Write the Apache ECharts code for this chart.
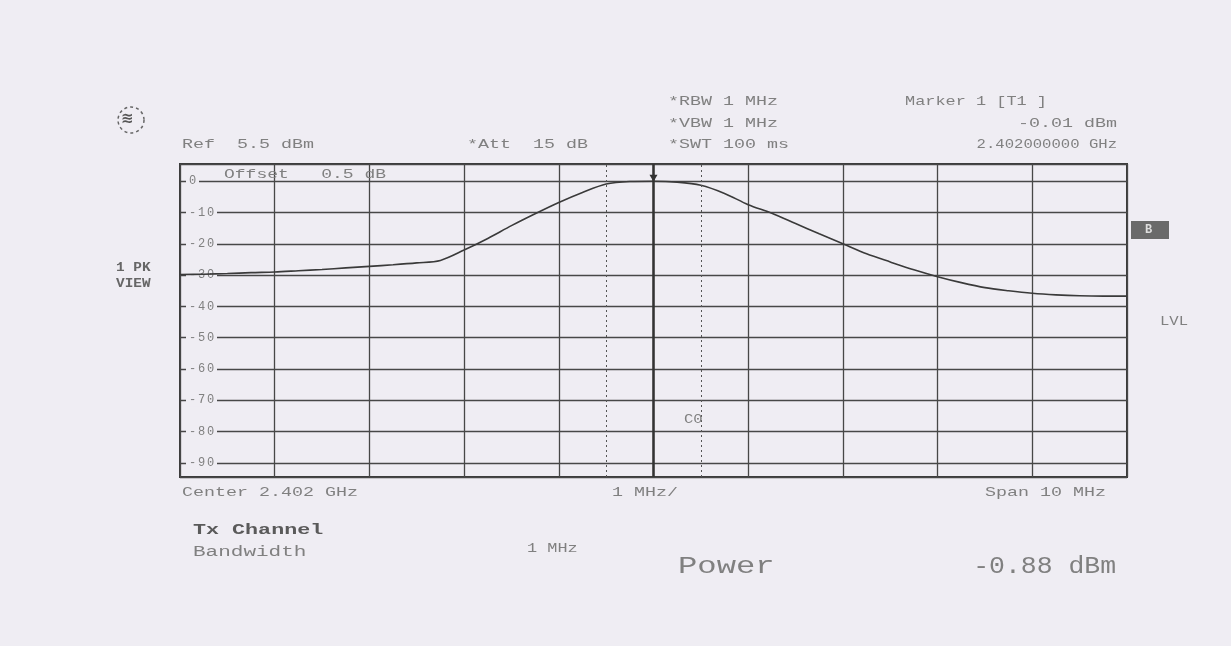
<!DOCTYPE html>
<html>
<head>
<meta charset="utf-8">
<script src="https://cdn.jsdelivr.net/npm/echarts@6/dist/echarts.min.js"></script>
<style>
  html, body { margin: 0; padding: 0; background: #efedf3; }
  #main { width: 1231px; height: 646px; }
</style>
</head>
<body>
<div id="main"></div>
<script>
// frequency offset from centre (MHz) and trace level (dBm)
var freqs = [-5, -4.75, -4.5, -4.25, -4, -3.75, -3.5, -3.25, -3, -2.75, -2.5, -2.25, -2, -1.75, -1.5, -1.25, -1, -0.75, -0.5, -0.25,
	0, 0.25, 0.5, 0.75, 1, 1.25, 1.5, 1.75, 2, 2.25, 2.5, 2.75, 3, 3.25, 3.5, 3.75, 4, 4.25, 4.5, 4.75, 5];
var levels = [-29.8, -29.7, -29.5, -29.2, -29.0, -28.6, -28.2, -27.7, -27.2, -26.7, -26.1, -25.3, -22.0, -18.3, -14.2, -10.4, -6.8, -3.6, -0.9, -0.1,
	0, -0.3, -1.3, -3.9, -7.5, -10.2, -13.5, -16.8, -20.0, -23.2, -25.8, -28.3, -30.5, -32.4, -34.0, -35.0, -35.8, -36.3, -36.6, -36.7, -36.7];
var channelEdges = [-0.5, 0.5];
var refLevel = 5.5;
var bottomLevel = -94.5;

var ink = '#808080';
var paper = '#efedf3';
var mono = '"Liberation Mono", "DejaVu Sans Mono", monospace';

var trace = freqs.map(function (f, i) { return [f, levels[i]]; });

// printer font is wide: stretch monospace text horizontally
function txt(x, y, s, o) {
	o = o || {};
	return {
		type: 'text', x: x, y: y,
		scaleX: o.sx || 1.41,
		z: 10,
		style: {
			x: 0, y: 0, text: s,
			align: o.align || 'left',
			verticalAlign: 'middle',
			fill: o.fill || ink,
			font: (o.weight || 'normal') + ' ' + (o.size || 13) + 'px ' + mono,
			backgroundColor: o.bg
		}
	};
}

var chart = echarts.init(document.getElementById('main'));
var option = {
	backgroundColor: paper,
	animation: false,
	grid: {
		left: 180, right: 104, top: 164, bottom: 169,
		show: true,
		borderColor: '#3a3a3a',
		borderWidth: 2
	},
	xAxis: {
		type: 'value',
		min: -5, max: 5, interval: 1,
		axisLine: { show: false },
		axisTick: { show: false },
		axisLabel: { show: false },
		splitLine: { lineStyle: { color: '#474747', width: 1.3 } }
	},
	yAxis: {
		type: 'value',
		min: bottomLevel, max: refLevel,
		splitNumber: 10,
		axisLine: { show: false },
		axisTick: { show: false },
		axisLabel: {
			inside: true,
			margin: 6,
			showMinLabel: false,
			showMaxLabel: false,
			formatter: function (v) {
				return String(v).split('').map(function (c) { return '{c|' + c + '}'; }).join('');
			},
			backgroundColor: paper,
			padding: [0, 2],
			rich: {
				c: { width: 9, align: 'center', color: ink, fontFamily: mono, fontSize: 12 }
			}
		},
		splitLine: { lineStyle: { color: '#474747', width: 1.3 } }
	},
	series: [{
		type: 'line',
		data: trace,
		smooth: 0.3,
		showSymbol: false,
		lineStyle: { color: '#3a3a3a', width: 1.6 },
		markLine: {
			silent: true,
			symbol: 'none',
			label: { show: false },
			data: [
				{ xAxis: 0, lineStyle: { color: '#333', width: 2.5, type: 'solid' } },
				{ xAxis: channelEdges[0], lineStyle: { color: '#555', width: 1, type: [2, 3] } },
				{ xAxis: channelEdges[1], lineStyle: { color: '#555', width: 1, type: [2, 3] } }
			]
		},
		markPoint: {
			symbol: 'triangle',
			symbolRotate: 180,
			symbolSize: [8, 7],
			symbolOffset: [0, -3],
			itemStyle: { color: '#333' },
			label: { show: false },
			data: [{ coord: [0, 0] }]
		}
	}],
	graphic: [
		// R&S logo (rough)
		{ type: 'circle', shape: { cx: 131, cy: 120, r: 13 }, style: { fill: 'none', stroke: '#666', lineWidth: 1.5, lineDash: [3, 3] } },
		{ type: 'text', left: 121, top: 112, style: { text: '≋', fill: '#555', font: 'bold 15px "DejaVu Sans"' } },

		txt(182, 145, 'Ref  5.5 dBm'),
		txt(467, 145, '*Att  15 dB'),
		txt(668, 102, '*RBW 1 MHz'),
		txt(668, 124, '*VBW 1 MHz'),
		txt(668, 145, '*SWT 100 ms'),
		txt(905, 102, 'Marker 1 [T1 ]', { sx: 1.3 }),
		txt(1117, 124, '-0.01 dBm', { align: 'right' }),
		txt(1117, 145, '2.402000000 GHz', { align: 'right', sx: 1.2 }),

		txt(116, 268, '1 PK', { weight: 'bold', fill: '#666', size: 12, sx: 1.2 }),
		txt(116, 284, 'VIEW', { weight: 'bold', fill: '#666', size: 12, sx: 1.2 }),
		{ type: 'rect', shape: { x: 1131, y: 221, width: 38, height: 18 }, style: { fill: '#6a6a6a' } },
		txt(1145, 230, 'B', { weight: 'bold', fill: '#ddd', size: 12, sx: 1 }),
		txt(1160, 322, 'LVL', { size: 12, sx: 1.3 }),

		txt(224, 175, 'Offset   0.5 dB', { size: 12, sx: 1.5 }),
		txt(684, 420, 'C0', { size: 12, sx: 1.3 }),

		txt(182, 493, 'Center 2.402 GHz'),
		txt(612, 493, '1 MHz/'),
		txt(1106, 493, 'Span 10 MHz', { align: 'right' }),

		txt(193, 530, 'Tx Channel', { weight: 'bold', fill: '#5a5a5a', size: 14, sx: 1.55 }),
		txt(193, 552, 'Bandwidth', { size: 14, sx: 1.5 }),
		txt(527, 549, '1 MHz', { size: 13, sx: 1.3 }),
		txt(678, 567, 'Power', { size: 23, sx: 1.4 }),
		txt(1116, 567, '-0.88 dBm', { size: 23, sx: 1.15, align: 'right' })
	]
};
chart.setOption(option);
</script>
</body>
</html>
